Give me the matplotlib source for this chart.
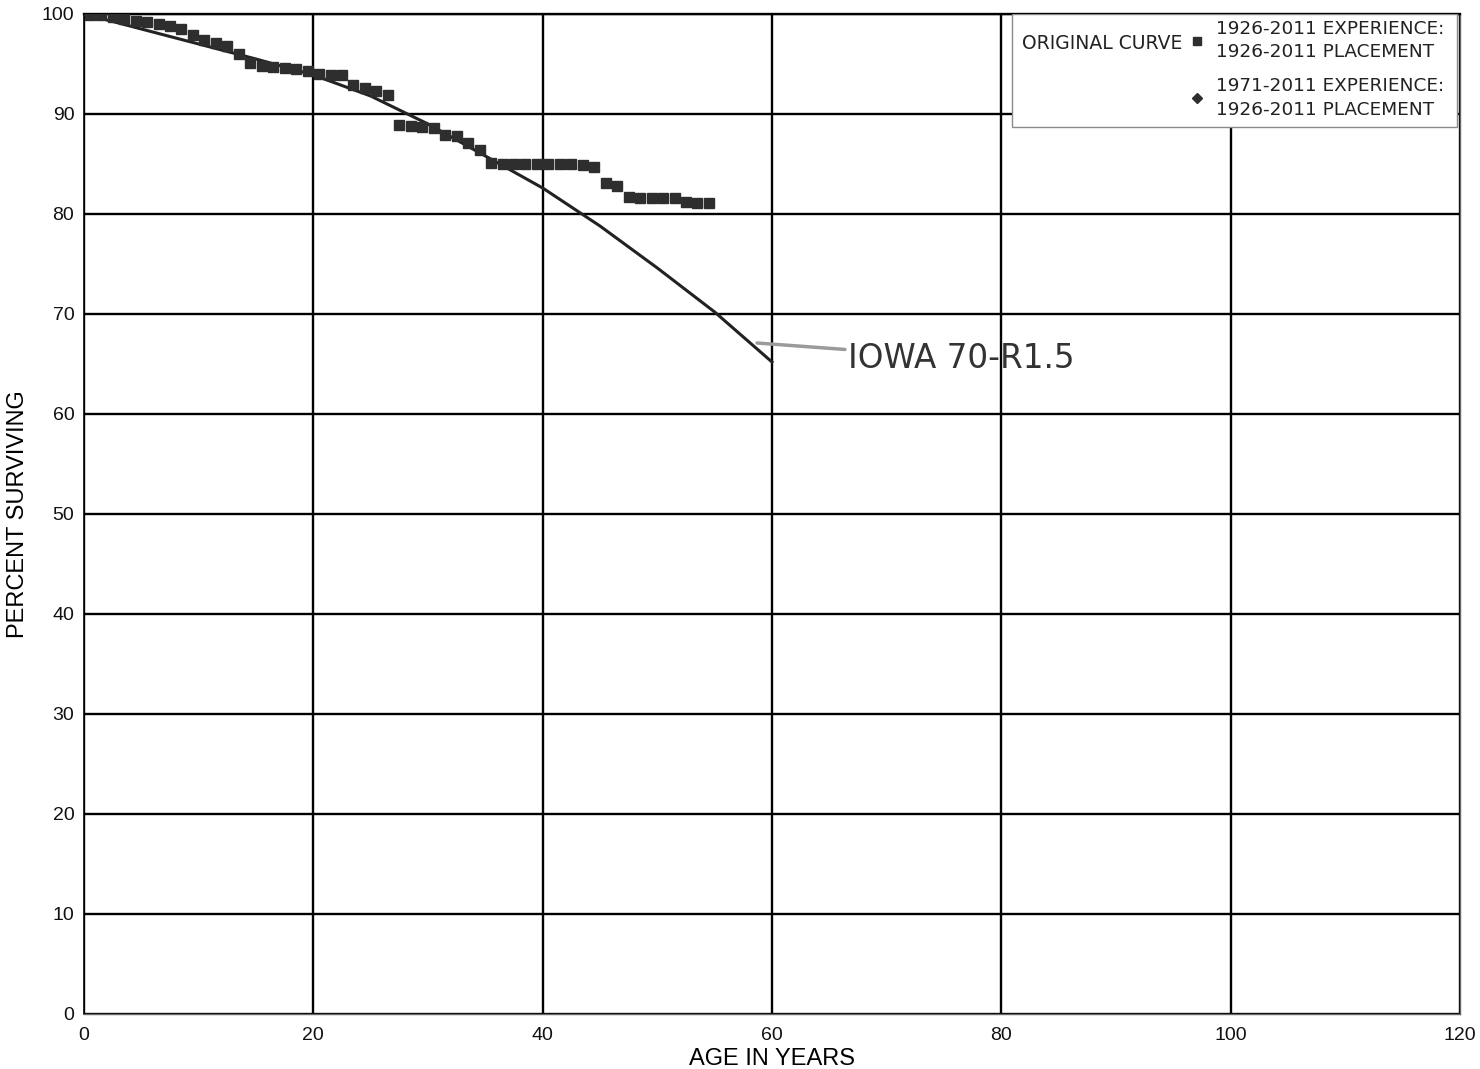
from matplotlib import pyplot as plt
from matplotlib.lines import Line2D
from matplotlib.patches import Rectangle

# observed survivor points (age in years, percent surviving)
ages = [0.5, 1.5, 2.5, 3.5, 4.5, 5.5, 6.5, 7.5, 8.5, 9.5,
        10.5, 11.5, 12.5, 13.5, 14.5, 15.5, 16.5, 17.5, 18.5, 19.5,
        20.5, 21.5, 22.5, 23.5, 24.5, 25.5, 26.5, 27.5, 28.5, 29.5,
        30.5, 31.5, 32.5, 33.5, 34.5, 35.5, 36.5, 37.5, 38.5, 39.5,
        40.5, 41.5, 42.5, 43.5, 44.5, 45.5, 46.5, 47.5, 48.5, 49.5,
        50.5, 51.5, 52.5, 53.5, 54.5]
pct_1926 = [99.95, 99.9, 99.7, 99.5, 99.3, 99.2, 99.0, 98.8, 98.5, 97.9,
            97.4, 97.1, 96.8, 96.0, 95.1, 94.8, 94.7, 94.6, 94.5, 94.3,
            94.0, 93.9, 93.9, 92.9, 92.6, 92.3, 91.9, 88.9, 88.8, 88.7,
            88.6, 87.9, 87.8, 87.1, 86.4, 85.1, 85.0, 85.0, 85.0, 85.0,
            85.0, 85.0, 85.0, 84.9, 84.7, 83.1, 82.8, 81.7, 81.6, 81.6,
            81.6, 81.6, 81.2, 81.1, 81.1]
# 1971-2011 experience overlaps the full-period points
pct_1971 = list(pct_1926)

# fitted Iowa 70-R1.5 curve
curve_age = [0, 5, 10, 15, 20, 25, 30, 35, 40, 45, 50, 55, 60]
curve_pct = [100, 98.5, 97.0, 95.5, 93.9, 91.8, 89.0, 85.8, 82.6, 78.8, 74.6, 70.2, 65.2]

x_ticks = [0, 20, 40, 60, 80, 100, 120]
y_ticks = [0, 10, 20, 30, 40, 50, 60, 70, 80, 90, 100]

plt.rcParams['font.family'] = ['Liberation Sans', 'DejaVu Sans']

fig = plt.figure(figsize=(14.8, 10.69), dpi=100)
ax = fig.add_axes([84/1480, 1 - 1014/1069, 1376/1480, 1000/1069])

ax.set_xlim(0, 120)
ax.set_ylim(0, 100)
ax.set_xticks(x_ticks)
ax.set_yticks(y_ticks)
ax.grid(True, color='black', linewidth=1.7)
ax.set_axisbelow(True)
ax.tick_params(length=0, labelsize=14, colors='#111111')
ax.tick_params(axis='x', pad=9)
ax.tick_params(axis='y', pad=7)

for side in ['bottom', 'right']:
    ax.spines[side].set_color('#666666')
    ax.spines[side].set_linewidth(1.0)
ax.spines['left'].set_color('black')
ax.spines['left'].set_linewidth(1.2)
ax.spines['top'].set_color('black')
ax.spines['top'].set_linewidth(1.7)

ax.set_xlabel('AGE IN YEARS', fontsize=17, labelpad=3)
ax.set_ylabel('PERCENT SURVIVING', fontsize=17, labelpad=9)

ax.plot(curve_age, curve_pct, color='#222222', linewidth=2.2, zorder=3)
ax.plot(ages, pct_1971, linestyle='none', marker='D', markersize=5,
        color='#2e2e2e', zorder=4)
ax.plot(ages, pct_1926, linestyle='none', marker='s', markersize=6.5,
        color='#2e2e2e', zorder=5)

ax.annotate('IOWA 70-R1.5', xy=(58.7, 67.1), xytext=(66.6, 65.6),
            fontsize=23.5, family='DejaVu Sans', color='#333333',
            va='center', ha='left',
            arrowprops=dict(arrowstyle='-', color='#9a9a9a', linewidth=2.5,
                            shrinkA=0, shrinkB=0))

# legend box
ax.add_patch(Rectangle((0.6744, 0.887), 0.3234, 0.113, transform=ax.transAxes,
                       facecolor='white', edgecolor='#8a8a8a', linewidth=1.0,
                       zorder=6))
ax.text(0.6817, 0.9705, 'ORIGINAL CURVE', transform=ax.transAxes,
        fontsize=13.5, family='DejaVu Sans', color='#222222',
        va='center', ha='left', zorder=7)
handles = [Line2D([], [], linestyle='none', marker='s', markersize=6, color='#2e2e2e'),
           Line2D([], [], linestyle='none', marker='D', markersize=5.5, color='#2e2e2e')]
labels = ['1926-2011 EXPERIENCE:\n1926-2011 PLACEMENT',
          '1971-2011 EXPERIENCE:\n1926-2011 PLACEMENT']
leg = ax.legend(handles, labels, loc='upper left', bbox_to_anchor=(0.7929, 1.009),
                frameon=False, prop={'family': 'DejaVu Sans', 'size': 13.3},
                handlelength=0.8, handletextpad=0.6, labelspacing=0.85,
                borderpad=0.3)
leg.set_zorder(8)
for t in leg.get_texts():
    t.set_color('#222222')
    t.set_linespacing(1.4)

fig.savefig('out.png', dpi=100)
